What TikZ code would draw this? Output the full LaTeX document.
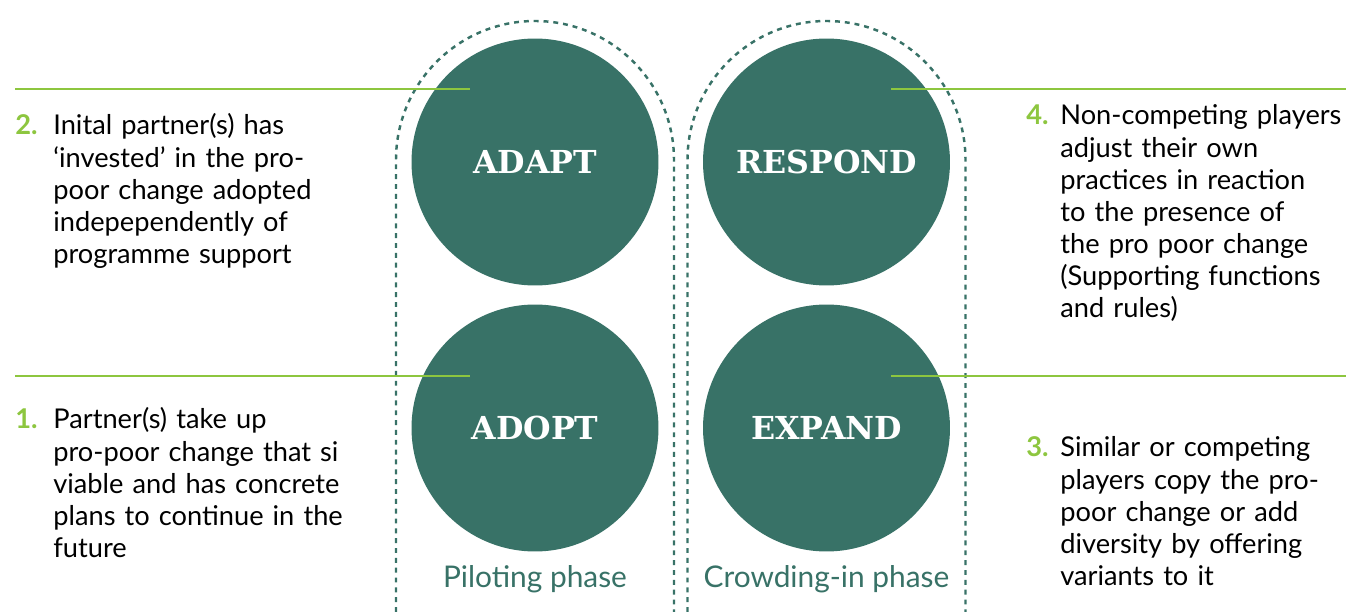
\documentclass[tikz,border=0pt]{standalone}
\usepackage{fontspec}
\setmainfont{Lato}
\newfontfamily\slabfont{DejaVu Serif}
\usepackage{xcolor}
\usetikzlibrary{positioning,calc}
\definecolor{verdeesc}{HTML}{387267}
\definecolor{verdecl}{HTML}{8DC63F}

\begin{document}
\begin{tikzpicture}[x=0.02cm,y=0.02cm,
    fase/.style={circle,fill=verdeesc,minimum size=4.94cm,inner sep=0pt,text=white,font=\slabfont\bfseries\fontsize{18}{20}\selectfont},
    arco/.style={draw=verdeesc,line width=1.4pt,dash pattern=on 2.8pt off 2.8pt},
    linha/.style={draw=verdecl,line width=1.7pt},
    texto/.style={anchor=base west,inner sep=0pt,text width=6cm,align=left,font=\fontsize{15.5}{18.3}\selectfont},
    num/.style={anchor=base east,inner sep=0pt,text=verdecl,font=\bfseries\fontsize{15.5}{18.3}\selectfont},
    rotulo/.style={text=verdeesc,inner sep=0pt,font=\fontsize{17}{19}\selectfont}]
    \useasboundingbox (0,0) rectangle (1346,612);
    % arcos tracejados das duas fases
    \draw[arco] (396,0) -- (396,452) arc[start angle=180,end angle=0,radius=139] -- (674,0);
    \draw[arco] (687.5,0) -- (687.5,452) arc[start angle=180,end angle=0,radius=139] -- (965.5,0);
    % circulos
    \node[fase] (adapt) at (535,450) {ADAPT};
    \node[fase] (adopt) at (535,184) {ADOPT};
    \node[fase] (respond) at (826.5,450) {RESPOND};
    \node[fase] (expand) at (826.5,184) {EXPAND};
    \node[rotulo] (piloting) at (535,33) {Piloting phase};
    \node[rotulo] (crowding) at (826.5,33) {Crowding-in phase};
    % linhas verdes
    \coordinate (l2) at (15,523);
    \coordinate (l1) at (15,236);
    \coordinate (r4) at (1346,523);
    \coordinate (r3) at (1346,236);
    \coordinate (a2) at ($(adapt)+(-65,73)$);
    \coordinate (a1) at ($(adopt)+(-65,52)$);
    \coordinate (b4) at ($(respond)+(64.5,73)$);
    \coordinate (b3) at ($(expand)+(64.5,52)$);
    \foreach \x/\y in {l2/a2,l1/a1,r4/b4,r3/b3} {\draw[linha] (\x) -- (\y);}
    % textos
    \node[num] (n2) at (38,477) {2.};
    \node[texto] (t2) at (53,477) {Inital partner(s) has\\‘invested’ in the pro-\\poor change adopted\\indepependently of\\programme support};
    \node[num] (n1) at (38,183) {1.};
    \node[texto] (t1) at (53,183) {Partner(s) take up\\pro-poor change that si\\viable and has concrete\\plans to continue in the\\future};
    \node[num] (n4) at (1049,487) {4.};
    \node[texto] (t4) at (1060,487) {Non-competing players\\adjust their own\\practices in reaction\\to the presence of\\the pro poor change\\(Supporting functions\\and rules)};
    \node[num] (n3) at (1049,155) {3.};
    \node[texto] (t3) at (1060,155) {Similar or competing\\players copy the pro-\\poor change or add\\diversity by offering\\variants to it};
\end{tikzpicture}
\end{document}
